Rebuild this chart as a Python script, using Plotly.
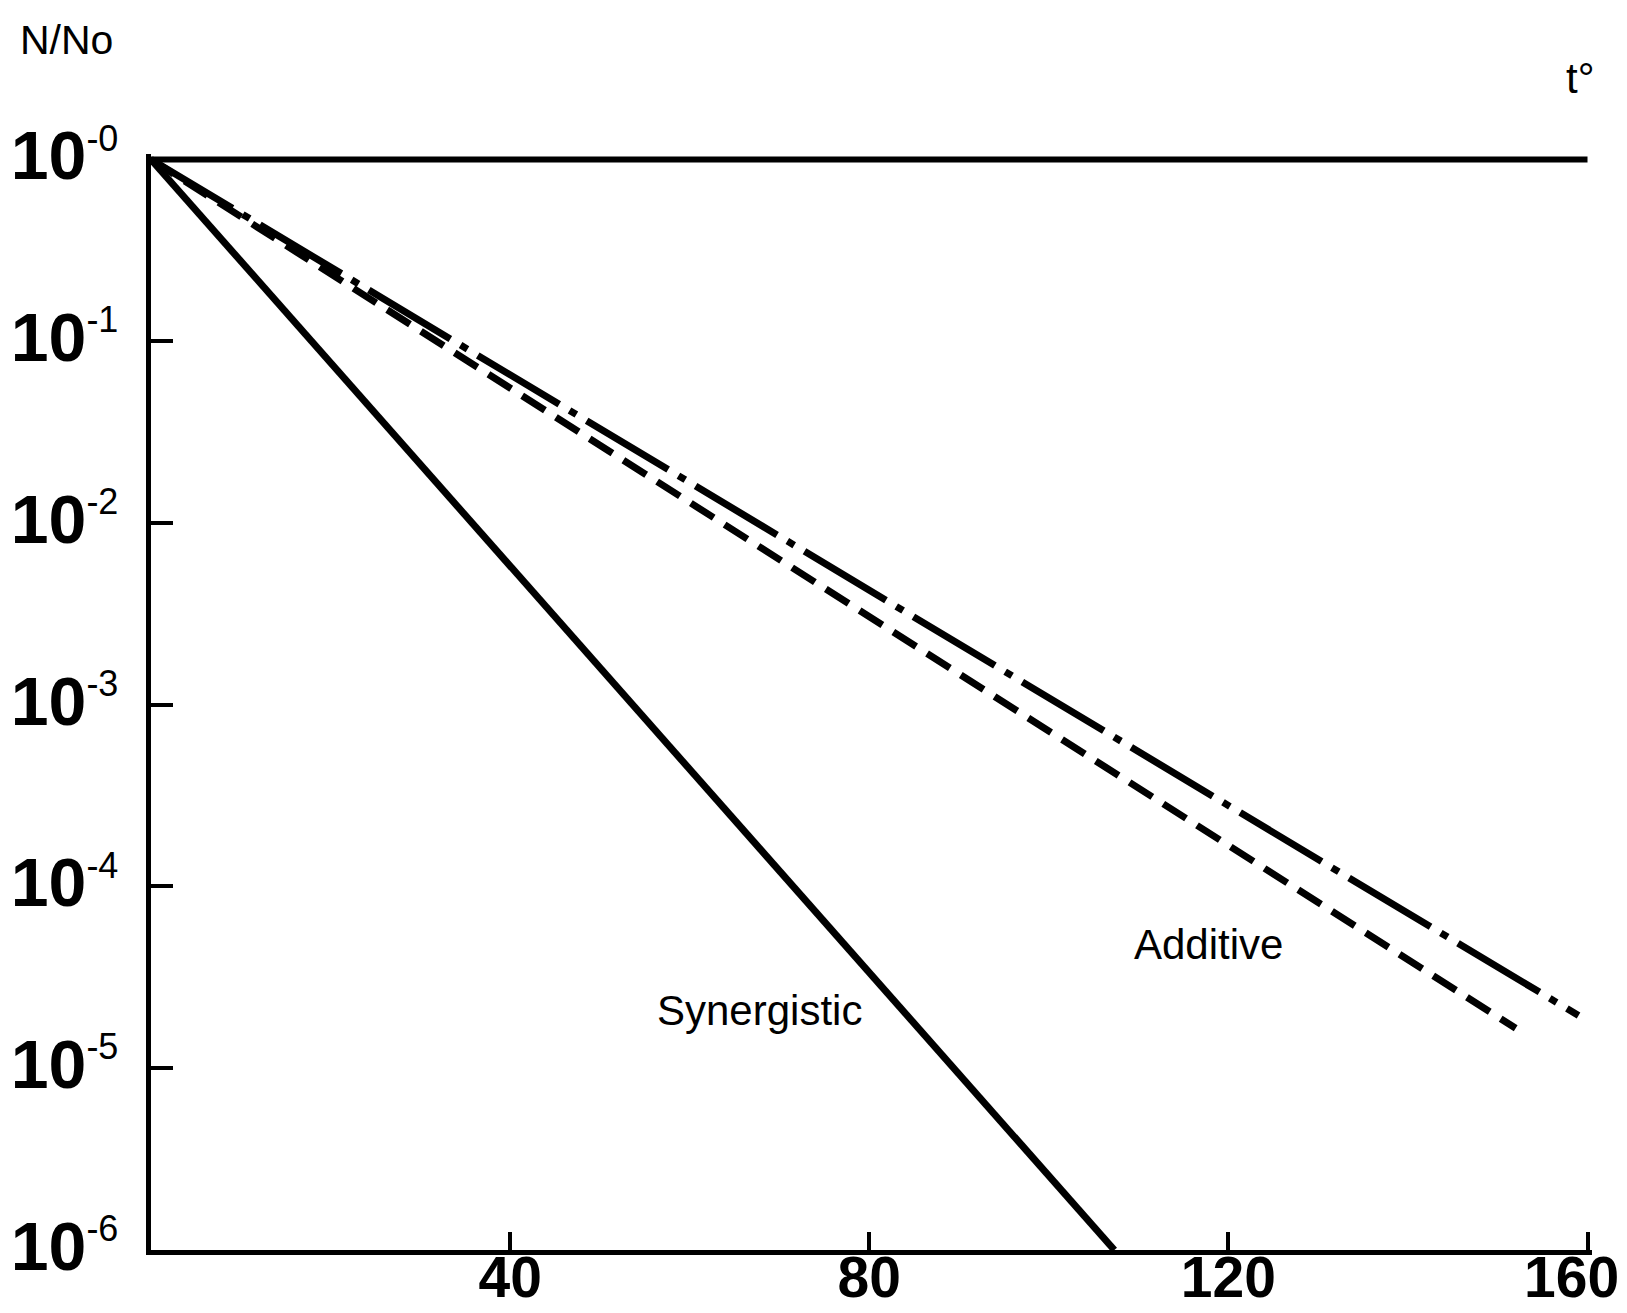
import plotly.graph_objects as go

# time axis (x) and survival fraction N/No (y, log scale)
control_t = [0, 160]
control_n = [1, 1]

synergistic_t = [0, 107.3]
synergistic_n = [1, 1e-6]

additive_dash_t = [0, 152]
additive_dash_n = [1, 1.66e-5]

additive_dashdot_t = [0, 159]
additive_dashdot_n = [1, 1.95e-5]

x_ticks = [40, 80, 120, 160]
x_ticktext = ["40", "80", "120", "160\u00a0\u00a0"]
y_ticks = [1, 1e-1, 1e-2, 1e-3, 1e-4, 1e-5, 1e-6]
y_ticktext = ['10<sup><span style="font-weight:normal;font-size:36px">-%d</span></sup>' % i
              for i in range(7)]

FONT = "Liberation Sans, Arial, sans-serif"
line_w = 7

# the page body has an 8px margin, so the figure is 16px smaller than the window
PAD = 8
W, H = 1627 - 2 * PAD, 1313 - 2 * PAD
x_end = 160.5
ml, mt = 151 - PAD, 154 - PAD
mb = H - (1250 - PAD)
pw = round((1588 - 151) * x_end / 160)
mr = W - ml - pw
ph = H - mt - mb


def px_to_paper(px, py):
    # window pixel position (from top-left) -> paper fraction
    px, py = px - PAD, py - PAD
    return (px - ml) / pw, (H - mb - py) / ph


fig = go.Figure()
fig.add_trace(go.Scatter(x=control_t, y=control_n, mode="lines",
                         line=dict(color="black", width=6)))
fig.add_trace(go.Scatter(x=synergistic_t, y=synergistic_n, mode="lines",
                         line=dict(color="black", width=line_w)))
fig.add_trace(go.Scatter(x=additive_dash_t, y=additive_dash_n, mode="lines",
                         line=dict(color="black", width=line_w, dash="27px,13px")))
fig.add_trace(go.Scatter(x=additive_dashdot_t, y=additive_dashdot_n, mode="lines",
                         line=dict(color="black", width=line_w, dash="95px,12px,8px,12px")))

# curve labels
fig.add_annotation(x=67.8, y=-4.68, text="Synergistic", showarrow=False,
                   font=dict(family=FONT, size=42, color="black"))
fig.add_annotation(x=117.8, y=-4.32, text="Additive", showarrow=False,
                   font=dict(family=FONT, size=42, color="black"))

# axis names, placed in the page corners
nx, ny = px_to_paper(66, 40)
fig.add_annotation(x=nx, y=ny, xref="paper", yref="paper", text="N/No", showarrow=False,
                   xanchor="center", yanchor="middle",
                   font=dict(family=FONT, size=41, color="black"))
tx, ty = px_to_paper(1580, 78)
fig.add_annotation(x=tx, y=ty, xref="paper", yref="paper", text="t°", showarrow=False,
                   xanchor="center", yanchor="middle",
                   font=dict(family=FONT, size=42, color="black"))

fig.update_xaxes(range=[0, x_end], tickvals=x_ticks, ticktext=x_ticktext,
                 ticks="inside", ticklen=18, tickwidth=4,
                 tickcolor="black", showline=True, linewidth=5, linecolor="black",
                 showgrid=False, zeroline=False, automargin=False, ticklabeloverflow="allow",
                 ticklabelstandoff=-26,
                 tickfont=dict(family=FONT, size=57, color="black", weight="bold"))
fig.update_yaxes(type="log", range=[-6, 0.03], tickvals=y_ticks, ticktext=y_ticktext,
                 ticks="inside", ticklen=22, tickwidth=4, tickcolor="black",
                 showline=True, linewidth=5, linecolor="black", showgrid=False, zeroline=False,
                 automargin=False, ticklabeloverflow="allow",
                 ticklabelstandoff=14, ticklabelshift=-4,
                 tickfont=dict(family=FONT, size=68, color="black", weight="bold"))

fig.update_layout(width=W, height=H, showlegend=False,
                  margin=dict(l=ml, r=mr, t=mt, b=mb),
                  plot_bgcolor="white", paper_bgcolor="white")

fig.write_html("out.html")
